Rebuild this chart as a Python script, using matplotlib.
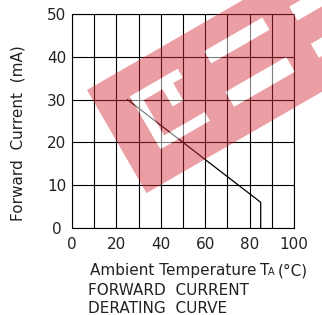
import numpy as np
import matplotlib
matplotlib.use('Agg')
import matplotlib.pyplot as plt
from matplotlib.path import Path
from matplotlib.patches import PathPatch, Polygon

# derating curve data
temp = [25, 85, 85]
current = [30, 6, 0]

x_ticks = [0, 20, 40, 60, 80, 100]
y_ticks = [0, 10, 20, 30, 40, 50]

W, H = 322, 315
fig = plt.figure(figsize=(W / 100, H / 100), dpi=100)
ax = fig.add_axes([72 / W, 1 - 228 / H, 222 / W, 214 / H])

ax.plot(temp, current, color='black', lw=0.9, zorder=3)

ax.set_xlim(0, 100)
ax.set_ylim(0, 50)
ax.set_xticks(x_ticks)
ax.set_yticks(y_ticks)
ax.set_xticks(np.arange(10, 100, 20), minor=True)
ax.grid(which='both', color='black', lw=0.8)
ax.tick_params(which='both', length=0, labelsize=11, labelcolor='#222')
ax.tick_params(axis='x', pad=6.5)
ax.tick_params(axis='y', pad=10.8)
for lab in ax.get_yticklabels():
    lab.set_ha('center')
for sp in ax.spines.values():
    sp.set_color('black')
    sp.set_linewidth(0.8)

fig.text(18 / W, 1 - 133 / H, 'Forward  Current  (mA)', rotation=90,
         ha='center', va='center', fontsize=11, color='#222')

base = 1 - 275 / H
fig.text(90 / W, base, 'Ambient Temperature', ha='left', va='baseline',
         fontsize=11, color='#222')
fig.text(260 / W, base, 'T', ha='left', va='baseline', fontsize=11, color='#222')
fig.text(268 / W, base, 'A', ha='left', va='baseline', fontsize=7, color='#222')
fig.text(278 / W, base, '(°C)', ha='left', va='baseline', fontsize=11, color='#222')
fig.text(88 / W, 1 - 295 / H, 'FORWARD  CURRENT', ha='left', va='baseline',
         fontsize=11, color='#222')
fig.text(88 / W, 1 - 313 / H, 'DERATING  CURVE', ha='left', va='baseline',
         fontsize=11, color='#222')

# red watermark overlay, drawn in pixel coords
wm = fig.add_axes([0, 0, 1, 1], zorder=5)
wm.set_xlim(0, W)
wm.set_ylim(H, 0)
wm.axis('off')
wm.patch.set_visible(False)

origin = np.array([87.0, 90.0])
u = np.array([np.cos(np.radians(30)), -np.sin(np.radians(30))])
v = np.array([np.sin(np.radians(30)), np.cos(np.radians(30))])


def to_px(pts, ds=0, dt=0):
    return [origin + (s + ds) * u + (t + dt) * v for s, t in pts]


def rect(s0, s1, t0, t1):
    return [(s0, t0), (s1, t0), (s1, t1), (s0, t1)]


def area(p):
    p = np.array(p)
    return 0.5 * np.sum(p[:, 0] * np.roll(p[:, 1], -1) - np.roll(p[:, 0], -1) * p[:, 1])


band = to_px(rect(0, 330, 0, 119))
letter1 = to_px([(0, 0), (55, 0), (55, 10), (44, 10), (44, 30), (32, 30), (32, 10),
                 (10, 10), (10, 51), (57, 51), (57, 61), (0, 61)], 34, 27)
holes = [letter1,
         to_px(rect(121, 188, 25, 39)),
         to_px(rect(119, 189, 71, 88)),
         to_px(rect(217, 320, 29, 45)),
         to_px(rect(217, 320, 72, 88))]

verts, codes = [], []
sign = np.sign(area(band))
for i, poly in enumerate([band] + holes):
    poly = list(poly)
    if (i == 0) != (np.sign(area(poly)) == sign):
        poly = poly[::-1]
    verts += poly + [poly[0]]
    codes += [Path.MOVETO] + [Path.LINETO] * (len(poly) - 1) + [Path.CLOSEPOLY]

wm.add_patch(PathPatch(Path(verts, codes), facecolor='#d42a35', alpha=0.45, lw=0))
for h in holes:
    wm.add_patch(Polygon(h, closed=True, facecolor='white', alpha=0.5, lw=0))

fig.savefig('out.png', dpi=100)
